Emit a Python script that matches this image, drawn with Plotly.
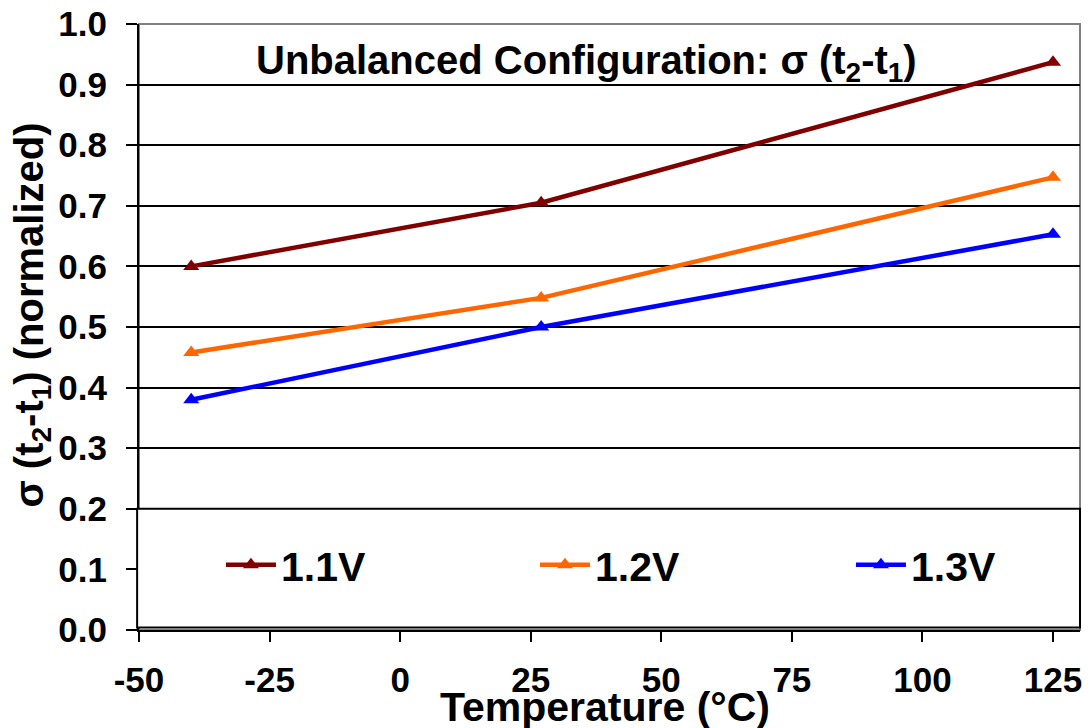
import plotly.graph_objects as go

temperature = [-40, 27, 125]
v11 = [0.600, 0.705, 0.937]
v12 = [0.458, 0.548, 0.747]
v13 = [0.380, 0.500, 0.653]
series_names = ["1.1V", "1.2V", "1.3V"]
series_colors = ["#800000", "#FF6600", "#0000FF"]
x_ticks = [-50, -25, 0, 25, 50, 75, 100, 125]
y_ticks = [0.0, 0.1, 0.2, 0.3, 0.4, 0.5, 0.6, 0.7, 0.8, 0.9, 1.0]

FONT = "Liberation Sans, Arial, sans-serif"
legend_ids = ["legend", "legend2", "legend3"]
legend_x = [0.0871, 0.4208, 0.7566]

fig = go.Figure()
for name, vals, col, lid in zip(series_names, [v11, v12, v13], series_colors, legend_ids):
    fig.add_trace(go.Scatter(
        x=temperature, y=vals, name=name, mode="lines+markers",
        line=dict(color=col, width=4.5),
        marker=dict(symbol="triangle-up", size=14, color=col),
        legend=lid,
    ))

legend_common = dict(
    orientation="h", y=0.107, xanchor="left", yanchor="middle",
    xref="paper", yref="paper",
    font=dict(size=41, family=FONT, color="black", weight="bold"),
    bgcolor="rgba(0,0,0,0)", itemwidth=50,
)

# page is offset 8px by the default body margin: compensate in margins
fig.update_layout(
    width=1091, height=728,
    margin=dict(l=131, r=19, t=16, b=106),
    paper_bgcolor="white", plot_bgcolor="white",
    font=dict(family=FONT, color="black"),
    showlegend=True,
    legend=dict(x=legend_x[0], **legend_common),
    legend2=dict(x=legend_x[1], **legend_common),
    legend3=dict(x=legend_x[2], **legend_common),
    xaxis=dict(
        range=[-50, 130.17], tickvals=x_ticks, ticktext=[str(v) for v in x_ticks],
        showgrid=False, zeroline=False, automargin=False,
        ticks="outside", ticklen=10, tickwidth=1.5, tickcolor="black",
        showline=True, linecolor="black", linewidth=1.5,
        tickfont=dict(size=35, family=FONT, color="black", weight="bold"),
        ticklabelstandoff=8, ticklabeloverflow="allow",
    ),
    yaxis=dict(
        range=[0, 1.0], tickvals=y_ticks, ticktext=[f"{v:.1f}" for v in y_ticks],
        showgrid=True, gridcolor="black", gridwidth=1.5, zeroline=False, automargin=False,
        ticks="outside", ticklen=11, tickwidth=1.5, tickcolor="black",
        showline=True, linecolor="black", linewidth=2,
        tickfont=dict(size=35, family=FONT, color="black", weight="bold"),
        ticklabelstandoff=12, ticklabeloverflow="allow",
    ),
    shapes=[
        dict(type="rect", xref="paper", yref="paper", x0=0, x1=1, y0=0, y1=1,
             line=dict(color="#808080", width=2), layer="below"),
        dict(type="rect", xref="paper", yref="paper", x0=-0.002, x1=1, y0=0.004, y1=0.2,
             line=dict(color="black", width=2), fillcolor="white", opacity=1, layer="above"),
    ],
)

fig.add_annotation(text="<b>Unbalanced Configuration: σ (t<sub>2</sub>-t<sub>1</sub>)</b>",
                   xref="paper", yref="paper", x=0.476, y=0.935, xanchor="center", yanchor="middle",
                   showarrow=False, font=dict(size=40, family=FONT, color="black"))
fig.add_annotation(text="<b>Temperature (°C)</b>",
                   xref="paper", yref="paper", x=0.495, y=-0.127, xanchor="center", yanchor="middle",
                   showarrow=False, font=dict(size=41, family=FONT, color="black"))
fig.add_annotation(text="<b>σ (t<sub>2</sub>-t<sub>1</sub>) (normalized)</b>",
                   xref="paper", yref="paper", x=-0.114, y=0.52, xanchor="center", yanchor="middle",
                   textangle=-90, showarrow=False, font=dict(size=40, family=FONT, color="black"))

fig.write_html("out.html")
